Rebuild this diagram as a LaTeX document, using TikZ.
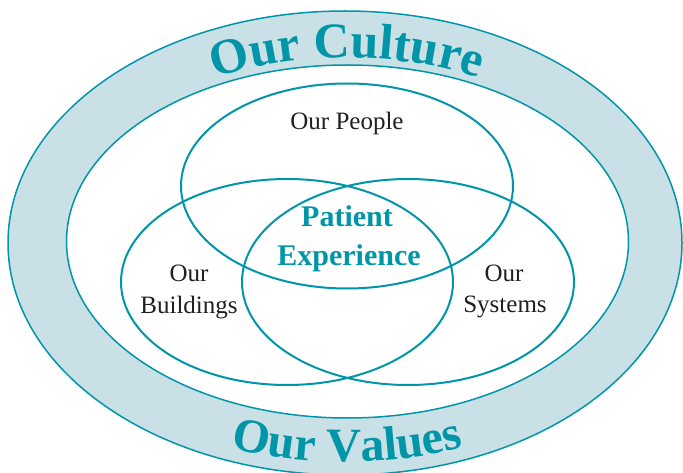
\documentclass[tikz,border=0pt]{standalone}
\usepackage{fontspec}
\setmainfont{Liberation Serif}
\usetikzlibrary{decorations.text}
\definecolor{tealline}{RGB}{0,150,168}
\definecolor{ringfill}{RGB}{200,224,230}
\definecolor{labelgray}{RGB}{35,31,32}
\begin{document}
\begin{tikzpicture}[x=1pt,y=1pt,
  ringedge/.style={draw=tealline, line width=1.5pt},
  venn/.style={draw=tealline, line width=2pt},
  lbl/.style={text=labelgray, font=\fontsize{25}{25}\selectfont, inner sep=0pt, anchor=base},
  core/.style={text=tealline, font=\bfseries\fontsize{30}{30}\selectfont, inner sep=0pt, anchor=base},
  arched/.style 2 args={decorate, decoration={text along path, text align=center, text color=tealline,
    text={|\bfseries\fontsize{#1}{#1}\selectfont|#2}}}]
\useasboundingbox (0,0) rectangle (683,472);
% culture ring and the white field inside it
\draw[ringedge, fill=ringfill] (345,229) ellipse [x radius=337, y radius=232];
\draw[ringedge, fill=white] (347.5,230.5) ellipse [x radius=281, y radius=176.5];
% three overlapping circles
\draw[venn] (347,286) ellipse [x radius=166, y radius=102.5];
\draw[venn] (287,190) ellipse [x radius=166, y radius=103];
\draw[venn] (408,190) ellipse [x radius=166, y radius=103];
% arched titles in the ring
\path[arched={50}{Our Culture}] (347,231) ++(150:288 and 183)
  arc[start angle=150, end angle=30, x radius=288, y radius=183];
\path[arched={48}{Our Values}] (347,229) ++(210:328 and 219)
  arc[start angle=210, end angle=330, x radius=328, y radius=219];
% circle labels
\node[lbl] (people) at (347,342) {Our People};
\node[lbl] (bldour) at (189,190) {Our};
\node[lbl] (bldname) at (189,159) {Buildings};
\node[lbl] (sysour) at (504,190) {Our};
\node[lbl] (sysname) at (505,160) {Systems};
\node[core] (patient) at (347,245) {Patient};
\node[core] (experience) at (349,207) {Experience};
\end{tikzpicture}
\end{document}
